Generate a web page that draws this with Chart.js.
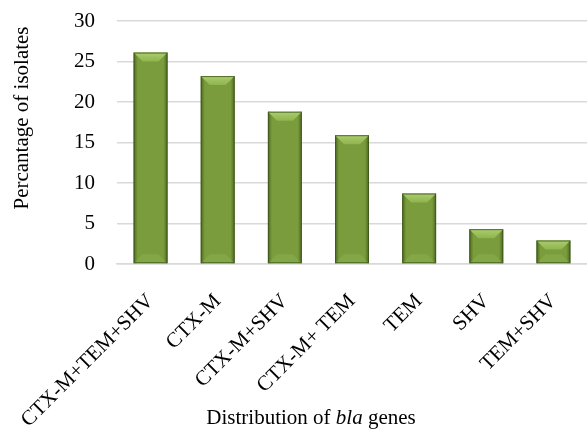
<!DOCTYPE html>
<html><head><meta charset="utf-8">
<script src="https://cdn.jsdelivr.net/npm/chart.js@4"></script>
<style>html,body{margin:0;padding:0;background:#fff}#wrap{width:587px;height:429px;position:relative}</style>
</head><body><div id="wrap"><canvas id="c" width="587" height="429"></canvas></div>
<script>
const categories = ['CTX-M+TEM+SHV', 'CTX-M', 'CTX-M+SHV', 'CTX-M+ TEM', 'TEM', 'SHV', 'TEM+SHV'];
const percentages = [26.1, 23.2, 18.8, 15.9, 8.7, 4.3, 2.9];
const yTickValues = [0, 5, 10, 15, 20, 25, 30];
const yTitle = 'Percantage of isolates';
const xTitleParts = [['Distribution of ', 'normal'], ['bla', 'italic'], [' genes', 'normal']];

const FONT = "'Liberation Serif', 'Times New Roman', serif";

const bevelPlugin = {
  id: 'bevel',
  afterDatasetsDraw(chart) {
    const ctx = chart.ctx;
    chart.getDatasetMeta(0).data.forEach(bar => {
      const w = bar.width, l = bar.x - w / 2, r = bar.x + w / 2, t = bar.y, b = bar.base;
      const bv = Math.min(9, (b - t) / 2);
      ctx.save();
      let g = ctx.createLinearGradient(l, 0, r, 0);
      g.addColorStop(0, 'rgba(40,60,15,0.55)');
      g.addColorStop(0.12, 'rgba(40,60,15,0.0)');
      g.addColorStop(0.88, 'rgba(40,60,15,0.0)');
      g.addColorStop(1, 'rgba(40,60,15,0.55)');
      ctx.fillStyle = g;
      ctx.fillRect(l, t, w, b - t);
      let gt = ctx.createLinearGradient(0, t, 0, t + bv);
      gt.addColorStop(0, '#accd6e');
      gt.addColorStop(1, '#8fb44e');
      ctx.fillStyle = gt;
      ctx.beginPath();
      ctx.moveTo(l, t); ctx.lineTo(r, t); ctx.lineTo(r - bv, t + bv); ctx.lineTo(l + bv, t + bv); ctx.closePath();
      ctx.fill();
      ctx.fillStyle = 'rgba(150,190,90,0.35)';
      ctx.beginPath();
      ctx.moveTo(l, b); ctx.lineTo(r, b); ctx.lineTo(r - bv, b - bv); ctx.lineTo(l + bv, b - bv); ctx.closePath();
      ctx.fill();
      ctx.strokeStyle = 'rgba(60,85,25,0.8)';
      ctx.lineWidth = 1;
      ctx.strokeRect(l + 0.5, t + 0.5, w - 1, b - t - 1);
      ctx.restore();
    });
  },
  afterDraw(chart) {
    const ctx = chart.ctx;
    ctx.save();
    ctx.fillStyle = '#000';
    ctx.textBaseline = 'alphabetic';
    let total = 0;
    xTitleParts.forEach(p => { ctx.font = p[1] + ' 21px ' + FONT; total += ctx.measureText(p[0]).width; });
    let x = 311 - total / 2;
    xTitleParts.forEach(p => { ctx.font = p[1] + ' 21px ' + FONT; ctx.fillText(p[0], x, 424); x += ctx.measureText(p[0]).width; });
    ctx.font = '21px ' + FONT;
    ctx.textAlign = 'center';
    ctx.textBaseline = 'middle';
    ctx.translate(22, 118);
    ctx.rotate(-Math.PI / 2);
    ctx.fillText(yTitle, 0, 0);
    ctx.restore();
  }
};

new Chart(document.getElementById('c'), {
  type: 'bar',
  data: {
    labels: categories,
    datasets: [{
      data: percentages,
      backgroundColor: '#7a9c3c',
      borderWidth: 0,
      barPercentage: 0.505,
      categoryPercentage: 1.0
    }]
  },
  options: {
    responsive: false,
    animation: false,
    devicePixelRatio: 1,
    layout: { padding: { top: 21, left: 0, right: 0, bottom: 0 } },
    plugins: { legend: { display: false }, tooltip: { enabled: false } },
    scales: {
      x: {
        afterFit(scale) { scale.height = 165; scale.paddingLeft = 0; scale.paddingRight = 0; },
        grid: { display: false, drawTicks: false },
        border: { color: '#d9d9d9', width: 1.5 },
        ticks: { color: '#000', font: { family: FONT, size: 21 }, maxRotation: 45, minRotation: 45, padding: 25, autoSkip: false }
      },
      y: {
        min: 0, max: 30,
        afterBuildTicks(scale) { scale.ticks = yTickValues.map(v => ({ value: v })); },
        afterFit(scale) { scale.width = 117; scale.paddingTop = 0; scale.paddingBottom = 0; },
        grid: { color: '#d9d9d9', lineWidth: 1.5, drawTicks: false },
        border: { display: false },
        ticks: { color: '#000', font: { family: FONT, size: 21 }, padding: 22 },
        title: { display: false }
      }
    }
  },
  plugins: [bevelPlugin]
});
</script></body></html>
